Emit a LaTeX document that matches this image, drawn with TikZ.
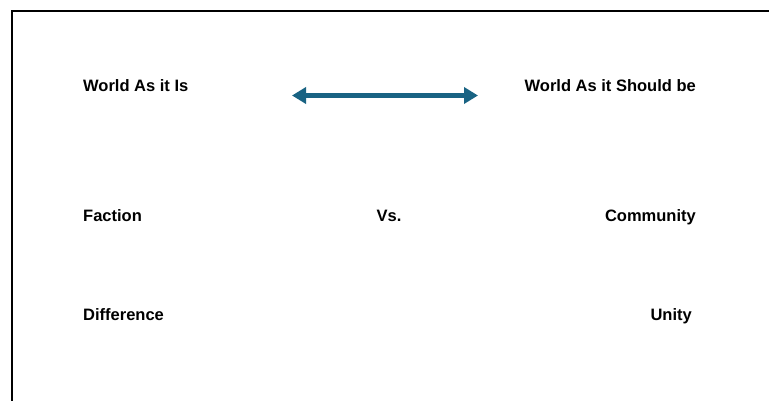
\documentclass[tikz,border=0pt]{standalone}
\usepackage{fontspec}
\setmainfont{Liberation Sans}
\usetikzlibrary{arrows.meta}
\definecolor{arrowblue}{RGB}{25,99,131}
\tikzset{
  lbl/.style={font=\fontsize{16.5}{19}\selectfont\bfseries, inner sep=0pt, text=black},
  frame/.style={draw=black, line width=2pt},
  dbl/.style={arrowblue, line width=5.5pt, {Triangle[length=14pt,width=16pt]}-{Triangle[length=14pt,width=16pt]}}
}
\begin{document}
\begin{tikzpicture}[x=1pt,y=-1pt]
\useasboundingbox (0,0) rectangle (769,401);
\fill[white] (0,0) rectangle (769,401);
\draw[frame] (11.5,402) -- (11.5,11.5) -- (770,11.5);
\node[lbl, anchor=base west] (wai) at (83,92) {World As it Is};
\node[lbl, anchor=base east] (was) at (696,92) {World As it Should be};
\node[lbl, anchor=base west] (fac) at (83,222) {Faction};
\node[lbl, anchor=base] (vs) at (389,222) {Vs.};
\node[lbl, anchor=base east] (com) at (696,222) {Community};
\node[lbl, anchor=base west] (dif) at (83,320) {Difference};
\node[lbl, anchor=base east] (uni) at (692,320) {Unity};
\coordinate (la) at (292,95.5);
\coordinate (ra) at (478,95.5);
\draw[dbl] (la) -- (ra);
\end{tikzpicture}
\end{document}
